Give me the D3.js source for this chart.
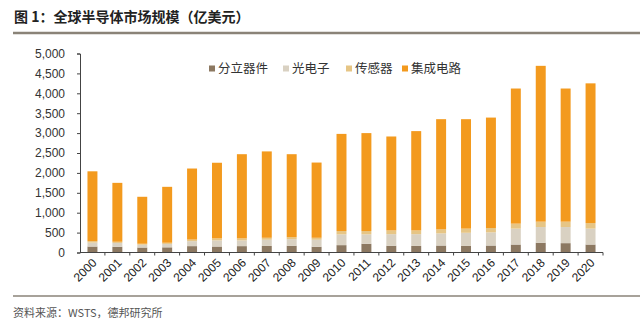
<!DOCTYPE html>
<html>
<head>
<meta charset="utf-8">
<script src="https://cdn.jsdelivr.net/npm/d3@7"></script>
<style>
  body { margin: 0; background: #fff; }
  text { font-family: "Liberation Sans", Arial, sans-serif; }
  .cjk { font-family: "Noto Sans CJK SC", sans-serif; }
</style>
</head>
<body>
<svg id="chart" width="640" height="329"></svg>
<script>
const years = d3.range(2000, 2021).map(String);
const seriesNames = ['分立器件', '光电子', '传感器', '集成电路'];
const discrete = [150, 145, 125, 130, 160, 150, 160, 165, 170, 145, 185, 220, 170, 165, 175, 165, 175, 200, 245, 235, 200];
const opto     = [100, 95, 70, 85, 125, 155, 145, 155, 165, 175, 270, 235, 290, 295, 305, 330, 330, 400, 395, 405, 400];
const sensors  = [35, 30, 25, 30, 40, 50, 50, 50, 50, 50, 85, 85, 95, 95, 100, 105, 110, 125, 135, 135, 140];
const ic       = [1755, 1480, 1180, 1405, 1785, 1900, 2115, 2170, 2085, 1890, 2440, 2460, 2360, 2495, 2770, 2750, 2775, 3395, 3915, 3345, 3510];
const yTicks = [0, 500, 1000, 1500, 2000, 2500, 3000, 3500, 4000, 4500, 5000];
const colors = ['#8c7861', '#d9d1c2', '#e6c585', '#f39a1e'];

const svg = d3.select('#chart');
const plot = { left: 80, right: 603, top: 53.5, bottom: 252.5 };

// title + rules
svg.append('text')
  .attr('class', 'cjk')
  .attr('x', 14)
  .attr('y', 22)
  .style('font-size', '14px')
  .style('font-weight', 'bold')
  .style('fill', '#222')
  .text('图 1：全球半导体市场规模（亿美元）');

svg.append('line')
  .attr('x1', 13).attr('x2', 640)
  .attr('y1', 33).attr('y2', 33)
  .style('stroke', '#8a8378')
  .style('stroke-width', 2.5);

svg.append('line')
  .attr('x1', 13).attr('x2', 640)
  .attr('y1', 296).attr('y2', 296)
  .style('stroke', '#8a8378')
  .style('stroke-width', 1.5);

svg.append('text')
  .attr('class', 'cjk')
  .attr('x', 13)
  .attr('y', 317)
  .style('font-size', '11px')
  .style('fill', '#555')
  .text('资料来源：WSTS，德邦研究所');

// scales
const x = d3.scaleBand().domain(years).range([plot.left, plot.right]).paddingInner(0.6).paddingOuter(0.3);
const xTick = d3.scaleBand().domain(years).range([plot.left, plot.right]);
const y = d3.scaleLinear().domain([0, 5000]).range([plot.bottom, plot.top]);

const rows = years.map((yr, i) => ({
  year: yr,
  '分立器件': discrete[i],
  '光电子': opto[i],
  '传感器': sensors[i],
  '集成电路': ic[i],
}));
const stacked = d3.stack().keys(seriesNames)(rows);

// bars
svg.append('g')
  .selectAll('g')
  .data(stacked)
  .join('g')
    .style('fill', (d, i) => colors[i])
  .selectAll('rect')
  .data(d => d)
  .join('rect')
    .attr('x', d => x(d.data.year))
    .attr('width', x.bandwidth())
    .attr('y', d => y(d[1]))
    .attr('height', d => y(d[0]) - y(d[1]));

// y axis
const yAxis = svg.append('g')
  .attr('transform', `translate(${plot.left},0)`)
  .call(d3.axisLeft(y).tickValues(yTicks).tickFormat(d3.format(',')).tickSize(3).tickPadding(12));
yAxis.select('.domain').style('stroke', '#444');
yAxis.selectAll('.tick line').style('stroke', '#444');
yAxis.selectAll('.tick text')
  .style('font-size', '12px')
  .style('fill', '#333');

// x axis: ticks between categories
const xAxis = svg.append('g')
  .attr('transform', `translate(0,${plot.bottom})`);
xAxis.append('line')
  .attr('x1', plot.left).attr('x2', plot.right)
  .style('stroke', '#444');
xAxis.selectAll('line.tk')
  .data(years)
  .join('line')
    .attr('class', 'tk')
    .attr('x1', d => xTick(d) + xTick.bandwidth())
    .attr('x2', d => xTick(d) + xTick.bandwidth())
    .attr('y1', 0).attr('y2', 3)
    .style('stroke', '#444');
xAxis.selectAll('text')
  .data(years)
  .join('text')
    .attr('transform', d => `translate(${x(d) + x.bandwidth() / 2 + 5},${11}) rotate(-45)`)
    .attr('text-anchor', 'end')
    .style('font-size', '12px')
    .style('fill', '#222')
    .text(d => d);

// legend
const legendX = [209, 283, 346, 402];
const legend = svg.append('g')
  .selectAll('g')
  .data(seriesNames)
  .join('g')
    .attr('transform', (d, i) => `translate(${legendX[i]},69)`);
legend.append('rect')
  .attr('y', -3.5)
  .attr('width', 6).attr('height', 6)
  .style('fill', (d, i) => colors[i]);
legend.append('text')
  .attr('class', 'cjk')
  .attr('x', 9)
  .attr('y', 4)
  .style('font-size', '12.5px')
  .style('fill', '#333')
  .text(d => d);
</script>
</body>
</html>
